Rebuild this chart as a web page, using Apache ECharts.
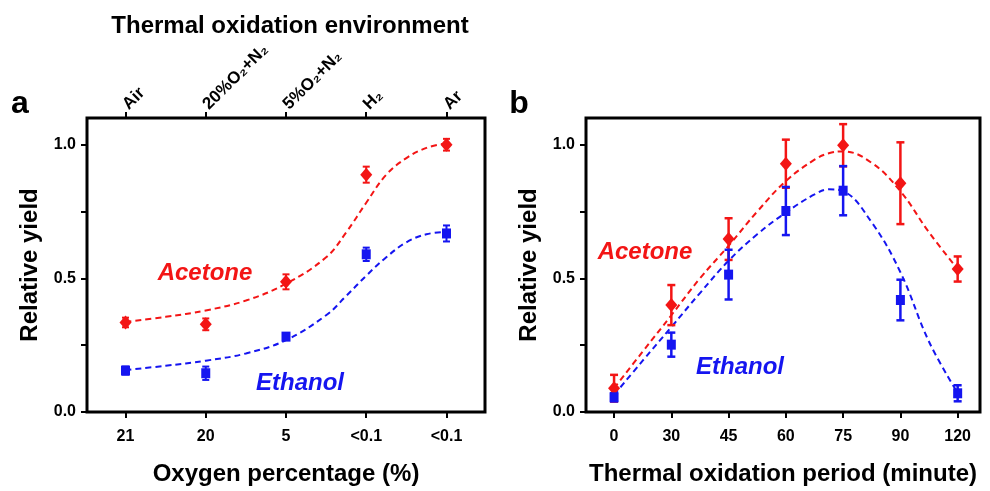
<!DOCTYPE html>
<html>
<head>
<meta charset="utf-8">
<script src="https://cdn.jsdelivr.net/npm/echarts@6/dist/echarts.min.js"></script>
<style>
  html, body { margin: 0; padding: 0; background: #fff; }
  #chart { width: 990px; height: 491px; }
</style>
</head>
<body>
<div id="chart"></div>
<script>
// panel a: oxygen percentage / environment
const oxygenLabels = ['21', '20', '5', '<0.1', '<0.1'];
const envLabels = ['Air', '20%O₂+N₂', '5%O₂+N₂', 'H₂', 'Ar'];
const acetoneA = [0.335, 0.328, 0.487, 0.888, 1.0];
const acetoneErrA = [0.018, 0.022, 0.028, 0.03, 0.022];
const ethanolA = [0.155, 0.145, 0.282, 0.59, 0.668];
const ethanolErrA = [0.015, 0.025, 0.012, 0.025, 0.03];
// fitted curves (x = category position)
const fitXA = [0, 0.5, 1, 1.5, 2, 2.5, 2.75, 3, 3.25, 3.5, 3.75, 4];
const acetoneFitA = [0.337, 0.356, 0.380, 0.417, 0.480, 0.579, 0.672, 0.783, 0.888, 0.950, 0.988, 1.006];
const ethanolFitA = [0.157, 0.173, 0.192, 0.219, 0.269, 0.362, 0.434, 0.510, 0.579, 0.635, 0.665, 0.674];

// panel b: thermal oxidation period
const periodLabels = ['0', '30', '45', '60', '75', '90', '120'];
const acetoneB = [0.089, 0.40, 0.647, 0.929, 0.998, 0.856, 0.535];
const acetoneErrB = [0.05, 0.075, 0.078, 0.09, 0.079, 0.153, 0.047];
const ethanolB = [0.055, 0.252, 0.514, 0.752, 0.828, 0.419, 0.07];
const ethanolErrB = [0.015, 0.045, 0.093, 0.09, 0.092, 0.076, 0.03];
const fitXB = [0, 0.5, 1, 1.5, 2, 2.5, 3, 3.5, 3.75, 4, 4.5, 5, 5.5, 6];
const acetoneFitB = [0.089, 0.226, 0.362, 0.50, 0.622, 0.75, 0.864, 0.944, 0.968, 0.975, 0.932, 0.826, 0.672, 0.535];
const ethanolFitB = [0.064, 0.192, 0.318, 0.445, 0.566, 0.665, 0.746, 0.814, 0.833, 0.826, 0.709, 0.523, 0.263, 0.071];

const RED = '#f31515';
const BLUE = '#1515f0';
const FONT = '"Liberation Sans", Arial, sans-serif';

const chart = echarts.init(document.getElementById('chart'));

const pairs = (xs, ys) => ys.map((y, i) => [xs[i], y]);
const idx = arr => arr.map((_, i) => i);
const withErr = (ys, es) => ys.map((y, i) => [i, y, es[i]]);

const errorBar = (gridIdx, data, color, capW, lw) => ({
  type: 'custom',
  xAxisIndex: gridIdx === 0 ? 0 : 2,
  yAxisIndex: gridIdx,
  data: data,
  z: 3,
  renderItem: (params, api) => {
    const x = api.value(0), y = api.value(1), e = api.value(2);
    const top = api.coord([x, y + e]);
    const bot = api.coord([x, y - e]);
    const st = { stroke: color, lineWidth: lw };
    return {
      type: 'group',
      children: [
        { type: 'line', shape: { x1: top[0], y1: top[1], x2: bot[0], y2: bot[1] }, style: st },
        { type: 'line', shape: { x1: top[0] - capW / 2, y1: top[1], x2: top[0] + capW / 2, y2: top[1] }, style: st },
        { type: 'line', shape: { x1: bot[0] - capW / 2, y1: bot[1], x2: bot[0] + capW / 2, y2: bot[1] }, style: st }
      ]
    };
  }
});

const fitLine = (xAxisIndex, yAxisIndex, xs, ys, color) => ({
  type: 'line',
  xAxisIndex, yAxisIndex,
  data: pairs(xs, ys),
  smooth: 0.4,
  showSymbol: false,
  silent: true,
  z: 2,
  lineStyle: { color, width: 2, type: [6, 4] }
});

const marks = (xAxisIndex, yAxisIndex, ys, color, symbol, size) => ({
  type: 'scatter',
  xAxisIndex, yAxisIndex,
  data: pairs(idx(ys), ys),
  symbol, symbolSize: size,
  itemStyle: { color, opacity: 1 },
  z: 4
});

const yAxisBase = gridIndex => ({
  type: 'value',
  gridIndex,
  min: 0, max: 1.1,
  name: 'Relative yield',
  nameLocation: 'middle',
  nameGap: 45,
  nameTextStyle: { fontFamily: FONT, fontWeight: 'bold', fontSize: 24, color: '#000' },
  axisLine: { show: false, onZero: false },
  axisTick: { show: true, length: 6, lineStyle: { color: '#000', width: 2 }, customValues: [0, 0.25, 0.5, 0.75, 1.0] },
  axisLabel: {
    customValues: [0, 0.5, 1.0],
    formatter: v => v.toFixed(1),
    fontFamily: FONT, fontWeight: 'bold', fontSize: 16, color: '#000', margin: 11
  },
  splitLine: { show: false }
});

const xTickStyle = { show: true, length: 6, lineStyle: { color: '#000', width: 2 } };
const xLabelStyle = { fontFamily: FONT, fontWeight: 'bold', fontSize: 16, color: '#000' };
const xNameStyle = { fontFamily: FONT, fontWeight: 'bold', fontSize: 24, color: '#000' };

const option = {
  animation: false,
  backgroundColor: '#fff',
  grid: [
    { left: 87, right: 505, top: 118, bottom: 77, show: true, borderColor: '#000', borderWidth: 3 },
    { left: 586, right: 10, top: 118, bottom: 77, show: true, borderColor: '#000', borderWidth: 3 }
  ],
  xAxis: [
    {
      type: 'value', gridIndex: 0, min: -0.48, max: 4.48,
      name: 'Oxygen percentage (%)', nameLocation: 'middle', nameGap: 50, nameTextStyle: xNameStyle,
      axisLine: { show: false, onZero: false },
      axisTick: Object.assign({ customValues: idx(oxygenLabels) }, xTickStyle),
      axisLabel: Object.assign({ customValues: idx(oxygenLabels), formatter: v => oxygenLabels[Math.round(v)], margin: 17 }, xLabelStyle),
      splitLine: { show: false }
    },
    {
      type: 'value', gridIndex: 0, position: 'top', min: -0.48, max: 4.48,
      axisLine: { show: false, onZero: false },
      axisTick: Object.assign({ customValues: idx(envLabels) }, xTickStyle),
      axisLabel: Object.assign({ customValues: idx(envLabels), formatter: v => envLabels[Math.round(v)], rotate: -45, margin: 11 }, xLabelStyle, { fontSize: 17 }),
      splitLine: { show: false }
    },
    {
      type: 'value', gridIndex: 1, min: -0.49, max: 6.39,
      name: 'Thermal oxidation period (minute)', nameLocation: 'middle', nameGap: 50, nameTextStyle: xNameStyle,
      axisLine: { show: false, onZero: false },
      axisTick: Object.assign({ customValues: idx(periodLabels) }, xTickStyle),
      axisLabel: Object.assign({ customValues: idx(periodLabels), formatter: v => periodLabels[Math.round(v)], margin: 17 }, xLabelStyle),
      splitLine: { show: false }
    }
  ],
  yAxis: [yAxisBase(0), yAxisBase(1)],
  graphic: [
    { type: 'text', x: 290, y: 26, style: { text: 'Thermal oxidation environment', font: 'bold 24px ' + FONT, fill: '#000', align: 'center', verticalAlign: 'middle' } },
    { type: 'text', x: 20, y: 104, style: { text: 'a', font: 'bold 32px ' + FONT, fill: '#000', align: 'center', verticalAlign: 'middle' } },
    { type: 'text', x: 519, y: 104, style: { text: 'b', font: 'bold 32px ' + FONT, fill: '#000', align: 'center', verticalAlign: 'middle' } },
    { type: 'text', x: 205, y: 273, style: { text: 'Acetone', font: 'italic bold 24px ' + FONT, fill: RED, align: 'center', verticalAlign: 'middle' } },
    { type: 'text', x: 300, y: 383, style: { text: 'Ethanol', font: 'italic bold 24px ' + FONT, fill: BLUE, align: 'center', verticalAlign: 'middle' } },
    { type: 'text', x: 645, y: 252, style: { text: 'Acetone', font: 'italic bold 24px ' + FONT, fill: RED, align: 'center', verticalAlign: 'middle' } },
    { type: 'text', x: 740, y: 367, style: { text: 'Ethanol', font: 'italic bold 24px ' + FONT, fill: BLUE, align: 'center', verticalAlign: 'middle' } }
  ],
  series: [
    fitLine(0, 0, fitXA, acetoneFitA, RED),
    fitLine(0, 0, fitXA, ethanolFitA, BLUE),
    errorBar(0, withErr(acetoneA, acetoneErrA), RED, 7, 2),
    errorBar(0, withErr(ethanolA, ethanolErrA), BLUE, 7, 2),
    marks(0, 0, acetoneA, RED, 'diamond', [12, 14]),
    marks(0, 0, ethanolA, BLUE, 'rect', [9, 10]),

    fitLine(2, 1, fitXB, acetoneFitB, RED),
    fitLine(2, 1, fitXB, ethanolFitB, BLUE),
    errorBar(1, withErr(acetoneB, acetoneErrB), RED, 8, 2.5),
    errorBar(1, withErr(ethanolB, ethanolErrB), BLUE, 8, 2.5),
    marks(2, 1, acetoneB, RED, 'diamond', [12, 14]),
    marks(2, 1, ethanolB, BLUE, 'rect', [9, 10])
  ]
};

chart.setOption(option);
</script>
</body>
</html>
